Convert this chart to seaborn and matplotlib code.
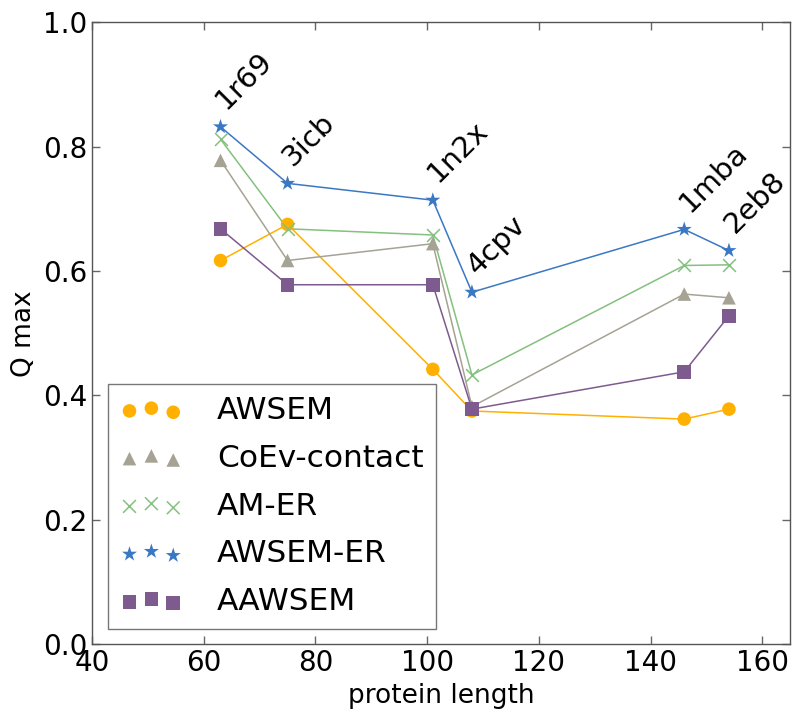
import numpy as np
import pandas as pd
import matplotlib
matplotlib.use("Agg")
import matplotlib.pyplot as plt
import seaborn as sns

# ==============================
# DATA
# ==============================

proteins = ["1r69", "3icb", "1n2x", "4cpv", "1mba", "2eb8"]
protein_length = [63, 75, 101, 108, 146, 154]

awsem = [0.617, 0.675, 0.442, 0.375, 0.362, 0.378]
coev_contact = [0.778, 0.617, 0.644, 0.382, 0.563, 0.557]
am_er = [0.812, 0.668, 0.658, 0.433, 0.609, 0.610]
awsem_er = [0.832, 0.741, 0.714, 0.566, 0.667, 0.633]
aawsem = [0.668, 0.578, 0.578, 0.378, 0.438, 0.528]

series_names = ["AWSEM", "CoEv-contact", "AM-ER", "AWSEM-ER", "AAWSEM"]
series_values = [awsem, coev_contact, am_er, awsem_er, aawsem]

colors = ["#FFB000", "#A6A394", "#84C07E", "#3B78C4", "#7E5B8F"]
markers = ["o", "^", "x", "*", "s"]
sizes = [95, 95, 85, 130, 95]

df = pd.DataFrame({
    "protein length": protein_length * len(series_names),
    "Q max": np.concatenate(series_values),
    "method": np.repeat(series_names, len(protein_length)),
})

# ==============================
# PLOT
# ==============================

sns.set_style("ticks")
plt.rcParams["font.family"] = ["DejaVu Sans"]
plt.rcParams["text.color"] = "black"
plt.rcParams["axes.labelcolor"] = "black"
plt.rcParams["xtick.color"] = "black"
plt.rcParams["ytick.color"] = "black"

fig = plt.figure(figsize=(8, 7.19), dpi=100)
ax = fig.add_axes([0.115, 0.104, 0.873, 0.865])

for name, color, marker, size in zip(series_names, colors, markers, sizes):
    sub = df[df["method"] == name]
    sns.lineplot(data=sub, x="protein length", y="Q max", color=color,
                 linewidth=1.1, legend=False, ax=ax)
    if marker == "x":
        ax.scatter(sub["protein length"], sub["Q max"], marker=marker,
                   s=size, color=color, linewidths=1.1, label=name, zorder=3)
    else:
        ax.scatter(sub["protein length"], sub["Q max"], marker=marker,
                   s=size, color=color, edgecolors="none", label=name,
                   zorder=3)

# protein names above the AWSEM-ER points
for name, x, y in zip(proteins, protein_length, awsem_er):
    ax.annotate(name, (x, y), xytext=(7, 9), textcoords="offset points",
                rotation=45, rotation_mode="anchor", ha="left", va="bottom",
                fontsize=21)

ax.set_xlim(40, 165)
ax.set_ylim(0, 1.0)
ax.set_xticks([40, 60, 80, 100, 120, 140, 160])
ax.set_yticks([0.0, 0.2, 0.4, 0.6, 0.8, 1.0])
ax.set_xlabel("protein length", fontsize=19)
ax.set_ylabel("Q max", fontsize=19)
ax.tick_params(direction="in", top=True, right=True, labelsize=20,
               length=6, width=1)
ax.tick_params(color="#666666")
for spine in ax.spines.values():
    spine.set_color("#555555")
    spine.set_linewidth(1)

leg = ax.legend(loc="lower left", scatterpoints=3, fontsize=22.5,
                frameon=True, fancybox=False, borderaxespad=0.5,
                handletextpad=1.1, labelspacing=0.6, borderpad=0.4)
leg.get_frame().set_edgecolor("#555555")
leg.get_frame().set_linewidth(1)

plt.savefig("out.png", dpi=100)
plt.close()
